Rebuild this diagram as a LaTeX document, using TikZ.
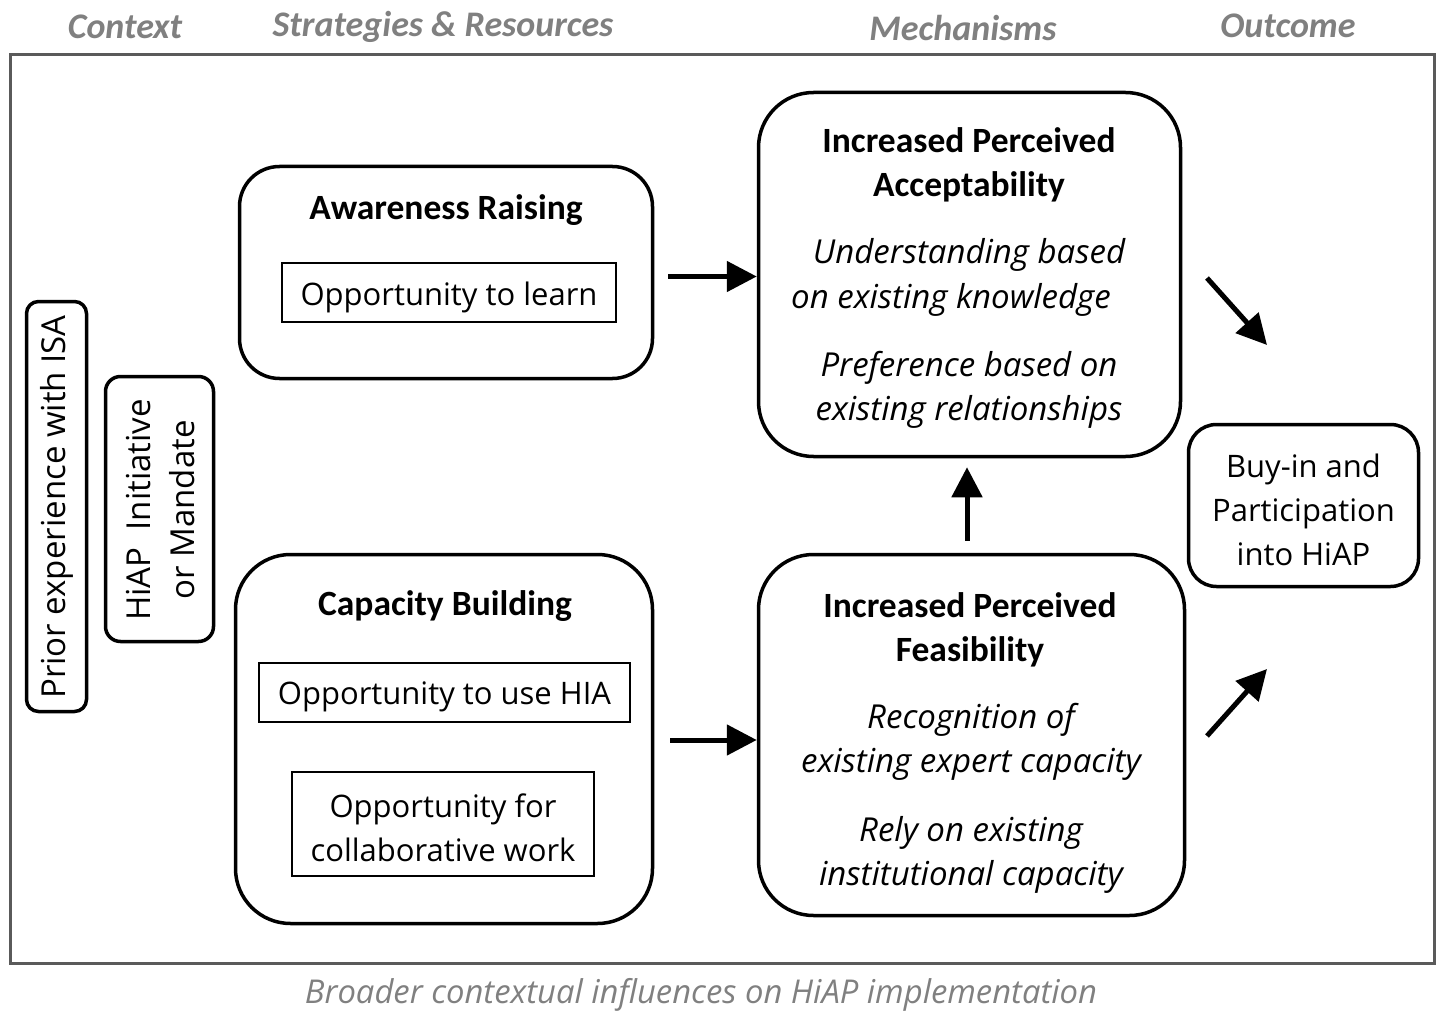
\documentclass[tikz,border=0pt]{standalone}
\usepackage{fontspec}
\setmainfont{Open Sans}
\newfontfamily\calfont{Carlito}
\usetikzlibrary{arrows.meta}
\definecolor{hdrgray}{RGB}{128,128,128}
\definecolor{framegray}{RGB}{90,90,90}
\tikzset{
  rbox/.style={draw=black, line width=3.5pt, fill=white, inner sep=0pt},
  ibox/.style={draw=black, line width=1.2pt, inner sep=0pt},
  ttl/.style={font=\calfont\bfseries\fontsize{35.5}{44}\selectfont, align=center, inner sep=0pt},
  reg/.style={font=\fontsize{31}{44}\selectfont, align=center, inner sep=0pt},
  vrt/.style={font=\fontsize{33}{44}\selectfont, align=center, inner sep=0pt, rotate=90},
  itl/.style={font=\itshape\fontsize{33}{44}\selectfont, align=center, inner sep=0pt},
  hdr/.style={font=\calfont\bfseries\itshape\fontsize{36}{40}\selectfont, text=hdrgray, inner sep=0pt},
  arr/.style={line width=5pt, -{Triangle[length=30pt,width=30pt]}},
}
\begin{document}
\begin{tikzpicture}[x=1pt,y=-1pt]
\useasboundingbox (0,0) rectangle (1438,1011);
% headers
\node[hdr] (h1) at (125,27) {Context};
\node[hdr] (h2) at (443,27) {Strategies \& Resources};
\node[hdr] (h3) at (963,28) {Mechanisms};
\node[hdr] (h4) at (1288,26) {Outcome};
% frame
\node[draw=framegray, line width=3pt, minimum width=1424pt, minimum height=908pt, inner sep=0pt] (frame) at (722,509) {};
\node[font=\itshape\fontsize{32.8}{36}\selectfont, text=hdrgray, inner sep=0pt] (foot) at (701,995) {Broader contextual influences on HiAP implementation};
% context boxes
\node[rbox, rounded corners=12pt, minimum width=60pt, minimum height=410pt] (prior) at (56.5,506.5) {};
\node[vrt] (priort) at (57,507) {Prior experience with ISA};
\node[rbox, rounded corners=15pt, minimum width=108pt, minimum height=265pt] (hiap) at (159.5,509) {};
\node[vrt] (hiapt) at (161,510) {HiAP\ \ Initiative\\or Mandate};
% awareness raising
\node[rbox, rounded corners=40pt, minimum width=413pt, minimum height=212pt] (aw) at (446,272.5) {};
\node[ttl] (awt) at (446,210) {Awareness Raising};
\node[ibox, minimum width=334pt, minimum height=59pt] (learn) at (449,292.5) {};
\node[reg] (learnt) at (449,297) {Opportunity to learn};
% capacity building
\node[rbox, rounded corners=55pt, minimum width=417pt, minimum height=369pt] (cap) at (444,739) {};
\node[ttl] (capt) at (445,606) {Capacity Building};
\node[ibox, minimum width=371pt, minimum height=59pt] (use) at (444.5,692.5) {};
\node[reg] (uset) at (444.5,697) {Opportunity to use HIA};
\node[ibox, minimum width=302pt, minimum height=104pt] (collab) at (443,824) {};
\node[reg] (collabt) at (443,828) {Opportunity for\\collaborative work};
% acceptability
\node[rbox, rounded corners=55pt, minimum width=422pt, minimum height=364pt] (acc) at (969.5,274.5) {};
\node[ttl] (acct) at (969,165) {Increased Perceived\\Acceptability};
\node[itl] (acc1) at (969,255) {Understanding based};
\node[itl] (acc2) at (951,300) {on existing knowledge};
\node[itl] (acc3) at (969,389.5) {Preference based on\\existing relationships};
% feasibility
\node[rbox, rounded corners=55pt, minimum width=426pt, minimum height=361pt] (feas) at (971.5,735) {};
\node[ttl] (feast) at (970,629.5) {Increased Perceived\\Feasibility};
\node[itl] (feas1) at (971,742) {Recognition of\\existing expert capacity};
\node[itl] (feas2) at (971,854.5) {Rely on existing\\institutional capacity};
% outcome
\node[rbox, rounded corners=28pt, minimum width=230pt, minimum height=162pt] (buy) at (1303.5,505.5) {};
\node[reg] (buyt) at (1303.5,510) {Buy-in and\\Participation\\into HiAP};
% arrows
\draw[arr] ([xshift=14pt,yshift=-4pt]aw.east) -- ([yshift=-2pt]acc.west);
\draw[arr] ([xshift=16pt,yshift=-1pt]cap.east) -- ([yshift=-5pt]feas.west);
\draw[arr] ([xshift=-4.5pt,yshift=12pt]feas.north) -- ([xshift=-2.5pt,yshift=-9pt]acc.south);
\coordinate (d1s) at (1207,278);
\coordinate (d1e) at (1267,345);
\coordinate (d2s) at (1207,736);
\coordinate (d2e) at (1267,669);
\draw[arr] (d1s) -- (d1e);
\draw[arr] (d2s) -- (d2e);
\end{tikzpicture}
\end{document}
